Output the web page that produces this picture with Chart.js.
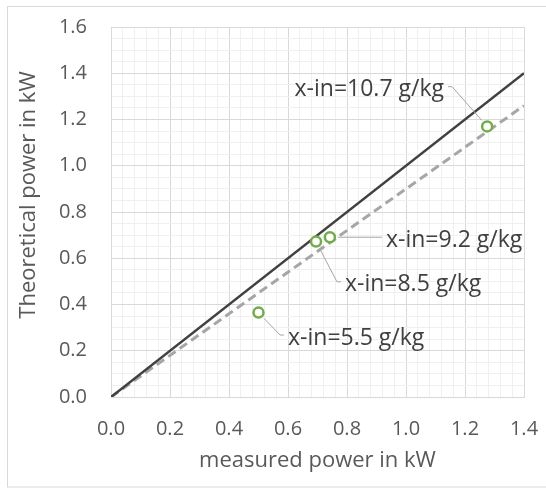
<!DOCTYPE html>
<html>
<head>
<meta charset="utf-8">
<script src="https://cdn.jsdelivr.net/npm/chart.js@4"></script>
<style>
  html, body { margin: 0; padding: 0; background: #ffffff; }
  #wrap { width: 546px; height: 488px; }
</style>
</head>
<body>
<div id="wrap"><canvas id="c" width="546" height="488"></canvas></div>
<script>
// ---- data ----
const measuredPower = [0.500, 0.695, 0.742, 1.275];
const theoreticalPower = [0.365, 0.672, 0.691, 1.170];
const pointLabels = ['x-in=5.5 g/kg', 'x-in=8.5 g/kg', 'x-in=9.2 g/kg', 'x-in=10.7 g/kg'];

const lineX = [0.0, 1.4];
const idealY = [0.0, 1.4];      // solid line y = x
const fitY = [0.0, 1.26];       // dashed line

const xTickLabels = ['0.0', '0.2', '0.4', '0.6', '0.8', '1.0', '1.2', '1.4'];
const yTickLabels = ['0.0', '0.2', '0.4', '0.6', '0.8', '1.0', '1.2', '1.4', '1.6'];

const xTitle = 'measured power in kW';
const yTitle = 'Theoretical power in kW';

// label anchor (elbow of the leader line) in data units, and side of the text
const labelElbowX = [0.573, 0.766, 0.905, 1.156];
const labelElbowY = [0.268, 0.498, 0.691, 1.342];
const labelSide = ['right', 'right', 'right', 'left'];

// ---- helpers ----
const X_MINOR = 5, Y_MINOR = 4;
function buildTicks(labels, sub) {
  const out = [];
  for (let i = 0; i < labels.length; i++) {
    const v = parseFloat(labels[i]);
    out.push({ value: v });
    if (i < labels.length - 1) {
      const nxt = parseFloat(labels[i + 1]);
      for (let k = 1; k < sub; k++) out.push({ value: v + (nxt - v) * k / sub });
    }
  }
  return out;
}

const FONT = '"Open Sans"';
const GRID_MAJOR = '#d9d9d9';
const GRID_MINOR = '#f0f0f0';

const frame = {
  id: 'frame',
  beforeDraw(chart) {
    const ctx = chart.ctx;
    ctx.save();
    ctx.fillStyle = '#ffffff';
    ctx.fillRect(0, 0, chart.width, chart.height);
    ctx.strokeStyle = '#d9d9d9';
    ctx.lineWidth = 1;
    ctx.strokeRect(7.5, 6.5, chart.width + 10, chart.height - 7.5);
    ctx.restore();
  },
  afterDraw(chart) {
    const ctx = chart.ctx;
    const xs = chart.scales.x, ys = chart.scales.y;
    ctx.save();
    // y axis title
    ctx.translate(29, 195);
    ctx.rotate(-Math.PI / 2);
    ctx.font = '22px ' + FONT;
    ctx.fillStyle = '#595959';
    ctx.textAlign = 'center';
    ctx.textBaseline = 'middle';
    ctx.fillText(yTitle, 0, 0);
    ctx.restore();

    // data labels with leader lines
    ctx.save();
    ctx.font = '23px ' + FONT;
    ctx.fillStyle = '#404040';
    ctx.textBaseline = 'middle';
    for (let i = 0; i < pointLabels.length; i++) {
      const px = xs.getPixelForValue(measuredPower[i]);
      const py = ys.getPixelForValue(theoreticalPower[i]);
      const ex = xs.getPixelForValue(labelElbowX[i]);
      const ey = ys.getPixelForValue(labelElbowY[i]);
      const dx = ex - px, dy = ey - py;
      const d = Math.hypot(dx, dy) || 1;
      const sx = px + dx / d * 8, sy = py + dy / d * 8;
      const dir = labelSide[i] === 'right' ? 1 : -1;
      ctx.strokeStyle = '#a6a6a6';
      ctx.lineWidth = 1;
      ctx.beginPath();
      ctx.moveTo(sx, sy);
      ctx.lineTo(ex, ey);
      ctx.lineTo(ex + dir * 4, ey);
      ctx.stroke();
      ctx.textAlign = dir > 0 ? 'left' : 'right';
      ctx.fillText(pointLabels[i], ex + dir * 8, ey + 3);
    }
    ctx.restore();
  }
};

new Chart(document.getElementById('c'), {
  type: 'scatter',
  data: {
    datasets: [
      {
        label: 'measured',
        data: measuredPower.map((x, i) => ({ x: x, y: theoreticalPower[i] })),
        showLine: false,
        pointStyle: 'circle',
        pointRadius: 5,
        pointBorderWidth: 2.5,
        pointBorderColor: '#70ad47',
        pointBackgroundColor: '#ffffff',
        order: 0
      },
      {
        label: 'fit',
        data: lineX.map((x, i) => ({ x: x, y: fitY[i] })),
        showLine: true,
        borderColor: '#a6a6a6',
        borderWidth: 3,
        borderDash: [9, 5],
        pointRadius: 0,
        order: 2
      },
      {
        label: 'ideal',
        data: lineX.map((x, i) => ({ x: x, y: idealY[i] })),
        showLine: true,
        borderColor: '#404040',
        borderWidth: 2.5,
        pointRadius: 0,
        order: 1
      }
    ]
  },
  options: {
    responsive: false,
    animation: false,
    devicePixelRatio: 1,
    layout: { padding: { left: 0, right: 22, top: 27, bottom: 0 } },
    plugins: { legend: { display: false }, tooltip: { enabled: false } },
    scales: {
      x: {
        type: 'linear',
        min: parseFloat(xTickLabels[0]),
        max: parseFloat(xTickLabels[xTickLabels.length - 1]),
        afterBuildTicks(scale) { scale.ticks = buildTicks(xTickLabels, X_MINOR); },
        afterFit(scale) {
          scale.height = 91;
          scale.paddingLeft = 0; scale.paddingRight = 0;
          scale.paddingTop = 0; scale.paddingBottom = 0;
        },
        grid: {
          drawTicks: false,
          color: (c) => (c.index % X_MINOR === 0 ? GRID_MAJOR : GRID_MINOR),
          lineWidth: 1
        },
        border: { color: GRID_MAJOR },
        ticks: {
          autoSkip: false,
          maxRotation: 0,
          padding: 20,
          color: '#595959',
          font: { family: FONT, size: 20 },
          callback: (v, i) => (i % X_MINOR === 0 ? xTickLabels[i / X_MINOR] : '')
        },
        title: {
          display: true,
          text: xTitle,
          color: '#595959',
          font: { family: FONT, size: 22 },
          padding: { top: 0, bottom: 14 }
        }
      },
      y: {
        type: 'linear',
        min: parseFloat(yTickLabels[0]),
        max: parseFloat(yTickLabels[yTickLabels.length - 1]),
        afterBuildTicks(scale) { scale.ticks = buildTicks(yTickLabels, Y_MINOR); },
        afterFit(scale) {
          scale.width = 111;
          scale.paddingLeft = 0; scale.paddingRight = 0;
          scale.paddingTop = 0; scale.paddingBottom = 0;
        },
        grid: {
          drawTicks: false,
          color: (c) => (c.index % Y_MINOR === 0 ? GRID_MAJOR : GRID_MINOR),
          lineWidth: 1
        },
        border: { color: GRID_MAJOR },
        ticks: {
          autoSkip: false,
          padding: 24,
          color: '#595959',
          font: { family: FONT, size: 20 },
          callback: (v, i) => (i % Y_MINOR === 0 ? yTickLabels[i / Y_MINOR] : '')
        }
      }
    }
  },
  plugins: [frame]
});
</script>
</body>
</html>
